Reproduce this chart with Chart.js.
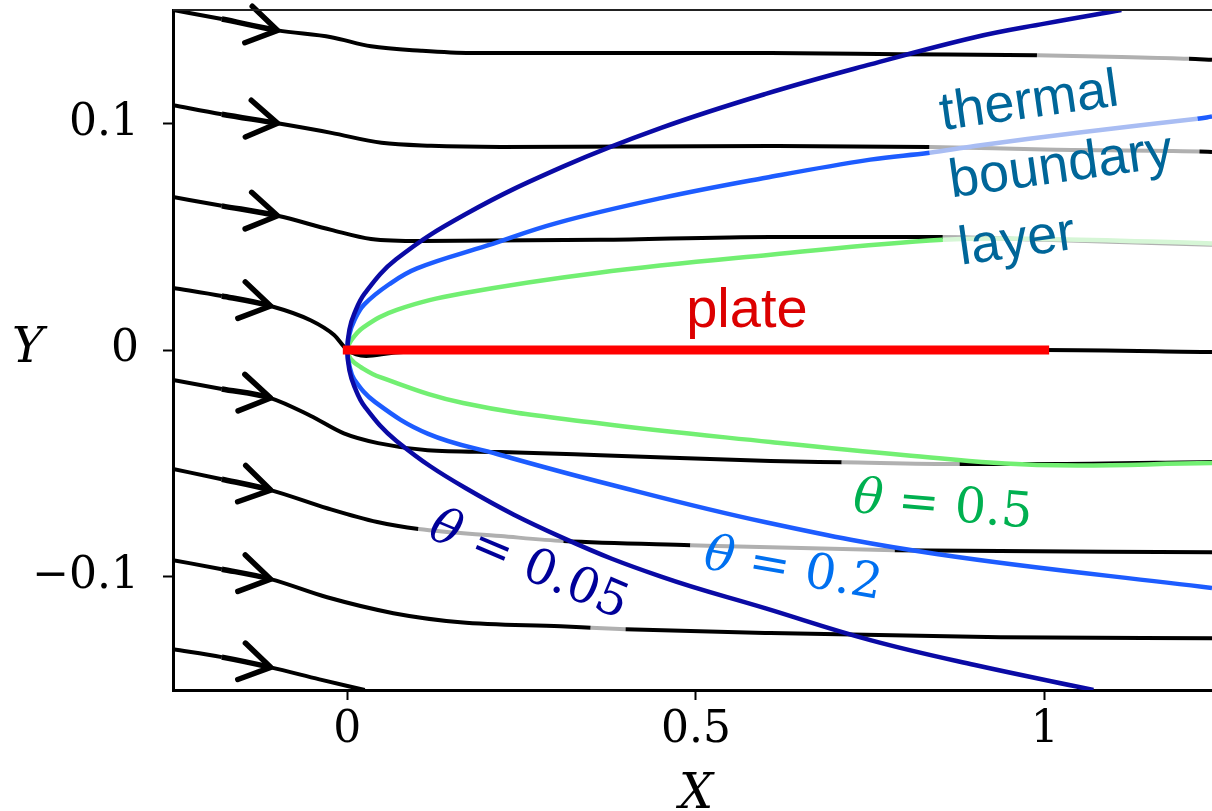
<!DOCTYPE html>
<html>
<head>
<meta charset="utf-8">
<script src="https://cdn.jsdelivr.net/npm/chart.js@4.4.1/dist/chart.umd.min.js"></script>
<style>
  html, body { margin: 0; padding: 0; background: #fff; }
  canvas { display: block; }
</style>
</head>
<body>
<canvas id="flowChart" width="1212" height="811"></canvas>
<script>
// axis ticks
const xTicks = [0, 0.5, 1];
const yTicks = [-0.1, 0, 0.1];

// the plate
const plateX = [0, 1];
const plateY = [0, 0];

// streamlines, top to bottom
const streamX1 = [-0.25, -0.18, -0.10, -0.023, 0.034, 0.106, 0.177, 0.363, 0.607, 0.793, 0.989, 1.11, 1.207, 1.24];
const streamY1 = [0.150, 0.146, 0.141, 0.138, 0.134, 0.132, 0.131, 0.131, 0.131, 0.1305, 0.130, 0.1293, 0.1285, 0.128];
const streamX2 = [-0.25, -0.18, -0.10, -0.023, 0.049, 0.12, 0.22, 0.607, 0.835, 1.0, 1.222, 1.24];
const streamY2 = [0.108, 0.104, 0.100, 0.0958, 0.0914, 0.0901, 0.0896, 0.090, 0.0896, 0.0885, 0.0876, 0.0874];
const streamX3 = [-0.25, -0.18, -0.10, -0.023, 0.034, 0.106, 0.363, 0.607, 0.854, 1.0, 1.24];
const streamY3 = [0.0675, 0.0636, 0.0592, 0.053, 0.049, 0.0481, 0.0486, 0.0499, 0.0499, 0.0486, 0.0464];
const streamX4 = [-0.25, -0.18, -0.11, -0.052, -0.019, 0, 0.027, 0.063, 0.105, 1.0, 1.24];
const streamY4 = [0.0274, 0.0238, 0.0194, 0.0130, 0.0066, 0, -0.0026, -0.0013, -0.0004, 0, -0.0009];
const streamX5 = [-0.25, -0.18, -0.11, -0.053, -0.005, 0.044, 0.115, 0.22, 0.363, 0.607, 0.709, 0.878, 1.0, 1.24];
const streamY5 = [-0.0132, -0.0172, -0.0212, -0.0290, -0.0368, -0.0411, -0.0442, -0.045, -0.0464, -0.049, -0.0495, -0.0503, -0.0503, -0.0494];
const streamX6 = [-0.25, -0.18, -0.11, -0.029, 0.043, 0.102, 0.22, 0.310, 0.492, 0.785, 1.24];
const streamY6 = [-0.0525, -0.057, -0.0618, -0.0698, -0.0759, -0.079, -0.0821, -0.0843, -0.0861, -0.0883, -0.0892];
const streamX7 = [-0.25, -0.18, -0.11, -0.029, 0.066, 0.162, 0.306, 0.349, 0.399, 0.607, 0.937, 1.24];
const streamY7 = [-0.0927, -0.0967, -0.1011, -0.1091, -0.1161, -0.1201, -0.1219, -0.1225, -0.1232, -0.1249, -0.1267, -0.1272];
const streamX8 = [-0.25, -0.18, -0.11, -0.04, 0.025];
const streamY8 = [-0.132, -0.1355, -0.140, -0.1453, -0.150];

// greyed-out parts of the streamlines (under the label boxes), X ranges
const fade1 = [[0.989, 1.207]];
const fade2 = [[0.835, 1.222]];
const fade3 = [[0.854, 1.24]];
const fade5 = [[0.709, 0.878]];
const fade6 = [[0.102, 0.310], [0.492, 0.785]];
const fade7 = [[0.349, 0.399]];

// theta = 0.05 isoline, upper branch then lower branch
const theta005X = [1.11, 1.0, 0.9, 0.75, 0.6, 0.45, 0.31, 0.17, 0.07, 0.025, 0.01, 0.003, 0,
                   0.003, 0.01, 0.025, 0.07, 0.17, 0.31, 0.45, 0.6, 0.75, 0.9, 1.07];
const theta005Y = [0.150, 0.144, 0.138, 0.126, 0.113, 0.098, 0.081, 0.060, 0.040, 0.025, 0.016, 0.009, 0,
                   -0.009, -0.016, -0.025, -0.040, -0.061, -0.083, -0.100, -0.114, -0.128, -0.139, -0.150];
// theta = 0.2 isoline
const theta02X = [1.24, 1.219, 1.05, 0.9, 0.835, 0.75, 0.6, 0.45, 0.3, 0.2, 0.1, 0.06, 0.024, 0.01, 0.003, 0,
                  0.003, 0.01, 0.04, 0.116, 0.216, 0.36, 0.6, 0.845, 1.24];
const theta02Y = [0.103, 0.102, 0.096, 0.090, 0.087, 0.084, 0.076, 0.067, 0.056, 0.046, 0.036, 0.029, 0.020, 0.013, 0.007, 0,
                  -0.007, -0.013, -0.023, -0.037, -0.046, -0.058, -0.076, -0.090, -0.105];
// theta = 0.5 isoline
const theta05X = [1.24, 1.0, 0.854, 0.607, 0.358, 0.166, 0.071, 0.023, 0.005, 0,
                  0.005, 0.019, 0.047, 0.166, 0.358, 0.607, 0.797, 0.989, 1.24];
const theta05Y = [0.047, 0.049, 0.0486, 0.042, 0.034, 0.025, 0.0177, 0.010, 0.004, 0,
                  -0.004, -0.0075, -0.012, -0.0234, -0.0322, -0.0406, -0.0463, -0.0507, -0.0499];
const fadeTheta02 = [[0.835, 1.219]];
const fadeTheta05 = [[0.854, 1.24]];

function toPoints(xs, ys) {
  return xs.map((x, i) => ({ x: x, y: ys[i] }));
}

// colour a segment lighter when it lies inside one of the ranges
function fadeColor(ranges, base, faded, upperOnly) {
  return function (ctx) {
    const a = ctx.p0.parsed, b = ctx.p1.parsed;
    if (upperOnly && (a.y < 0 || b.y < 0)) return base;
    for (const r of ranges) {
      if (Math.min(a.x, b.x) >= r[0] - 1e-6 && Math.max(a.x, b.x) <= r[1] + 1e-6) return faded;
    }
    return base;
  };
}

function streamline(xs, ys, fades) {
  return {
    data: toPoints(xs, ys),
    borderColor: '#000',
    borderWidth: 4,
    pointRadius: 0,
    cubicInterpolationMode: 'monotone',
    arrowAt: 2,
    segment: {
      borderColor: fadeColor(fades || [], '#000', '#b0b0b0', false),
      borderWidth: ctx => ctx.p0DataIndex === 1 ? 5.5 : undefined
    }
  };
}

function isoline(xs, ys, color, faded, fades) {
  return {
    data: toPoints(xs, ys),
    borderColor: color,
    borderWidth: 4.5,
    pointRadius: 0,
    tension: 0.4,
    segment: { borderColor: fadeColor(fades || [], color, faded, true) }
  };
}

// text annotations, anchored in data units (left end of the baseline)
const notes = [
  { lines: ['plate'], x: 0.486, y: 0.0101, angle: 0, color: '#dc0000', size: 56, lineHeight: 0 },
  { lines: ['thermal', 'boundary', 'layer'], x: 0.853, y: 0.097, angle: -8, color: '#006699', size: 54, lineHeight: 68 }
];
const thetaNotes = [
  { value: '0.05', x: 0.113, y: -0.0825, angle: 23, color: '#000099' },
  { value: '0.2', x: 0.509, y: -0.0962, angle: 10, color: '#0070f0' },
  { value: '0.5', x: 0.724, y: -0.0715, angle: 5, color: '#00b050' }
];

function fmt(v) {
  if (v === 0) return '0';
  return (v < 0 ? '\u2212' : '') + Math.abs(v);
}

const arrowPlugin = {
  id: 'arrows',
  afterDatasetsDraw(chart) {
    const ctx = chart.ctx;
    chart.data.datasets.forEach((ds, i) => {
      if (ds.arrowAt === undefined) return;
      const pts = chart.getDatasetMeta(i).data;
      const tip = pts[ds.arrowAt], prev = pts[ds.arrowAt - 1];
      const ang = Math.atan2(tip.y - prev.y, tip.x - prev.x);
      const len = 35, spread = 0.56;
      ctx.save();
      ctx.strokeStyle = '#000';
      ctx.lineWidth = 5.5;
      ctx.lineCap = 'round';
      ctx.lineJoin = 'round';
      ctx.beginPath();
      ctx.moveTo(tip.x - len * Math.cos(ang - spread), tip.y - len * Math.sin(ang - spread));
      ctx.lineTo(tip.x, tip.y);
      ctx.lineTo(tip.x - len * Math.cos(ang + spread), tip.y - len * Math.sin(ang + spread));
      ctx.stroke();
      ctx.restore();
    });
  }
};

const textPlugin = {
  id: 'notes',
  afterDatasetsDraw(chart) {
    const ctx = chart.ctx;
    const xs = chart.scales.x, ys = chart.scales.y;
    ctx.save();
    ctx.textBaseline = 'alphabetic';
    ctx.textAlign = 'left';
    notes.forEach(n => {
      ctx.save();
      ctx.translate(xs.getPixelForValue(n.x), ys.getPixelForValue(n.y));
      ctx.rotate(n.angle * Math.PI / 180);
      ctx.fillStyle = n.color;
      ctx.font = n.size + 'px "Liberation Sans", Arial, sans-serif';
      n.lines.forEach((t, k) => ctx.fillText(t, 0, k * n.lineHeight));
      ctx.restore();
    });
    thetaNotes.forEach(n => {
      ctx.save();
      ctx.translate(xs.getPixelForValue(n.x), ys.getPixelForValue(n.y));
      ctx.rotate(n.angle * Math.PI / 180);
      ctx.fillStyle = n.color;
      ctx.font = 'italic 49px "DejaVu Serif", serif';
      ctx.fillText('\u03b8', 0, 0);
      let w = ctx.measureText('\u03b8').width;
      ctx.font = '49px "DejaVu Serif", serif';
      ctx.fillText(' = ' + n.value, w, 0);
      ctx.restore();
    });
    ctx.restore();
  },
  afterDraw(chart) {
    const ctx = chart.ctx;
    const area = chart.chartArea;
    ctx.save();
    // thin frame line along the top
    ctx.strokeStyle = '#222';
    ctx.lineWidth = 2;
    ctx.beginPath();
    ctx.moveTo(area.left, area.top);
    ctx.lineTo(area.right, area.top);
    ctx.stroke();
    // axis titles
    ctx.fillStyle = '#000';
    ctx.font = 'italic 48px "DejaVu Serif", serif';
    ctx.textAlign = 'left';
    ctx.textBaseline = 'middle';
    ctx.fillText('Y', 12, chart.scales.y.getPixelForValue(0));
    ctx.textAlign = 'center';
    ctx.textBaseline = 'alphabetic';
    ctx.fillText('X', chart.scales.x.getPixelForValue(0.5), 808);
    ctx.restore();
  }
};

const datasets = [
  {
    data: toPoints(plateX, plateY),
    borderColor: '#ff0000',
    borderWidth: 9,
    borderCapStyle: 'square',
    pointRadius: 0
  },
  isoline(theta005X, theta005Y, '#0a0aa5', '#0a0aa5', []),
  isoline(theta02X, theta02Y, '#1d5cff', '#a9bdf3', fadeTheta02),
  isoline(theta05X, theta05Y, '#72ef72', '#d6f6d6', fadeTheta05),
  streamline(streamX1, streamY1, fade1),
  streamline(streamX2, streamY2, fade2),
  streamline(streamX3, streamY3, fade3),
  streamline(streamX4, streamY4, []),
  streamline(streamX5, streamY5, fade5),
  streamline(streamX6, streamY6, fade6),
  streamline(streamX7, streamY7, fade7),
  streamline(streamX8, streamY8, [])
];

const axisGrid = { drawOnChartArea: false, drawTicks: true, tickLength: 10, tickWidth: 2, tickColor: '#000' };
const axisBorder = { display: true, color: '#000', width: 3 };
const tickFont = { family: '"DejaVu Serif", serif', size: 44 };

// keep the plot area where the reference has it
function noPad(s) {
  s.paddingTop = 0; s.paddingBottom = 0; s.paddingLeft = 0; s.paddingRight = 0;
}

new Chart(document.getElementById('flowChart'), {
  type: 'line',
  data: { datasets: datasets },
  options: {
    responsive: false,
    animation: false,
    devicePixelRatio: 1,
    layout: { padding: { top: 10, left: 0, right: 0, bottom: 0 } },
    plugins: { legend: { display: false }, tooltip: { enabled: false } },
    scales: {
      x: {
        type: 'linear', min: -0.25, max: 1.24,
        afterBuildTicks: s => { s.ticks = xTicks.map(v => ({ value: v })); },
        afterFit: s => { s.height = 121; noPad(s); },
        grid: axisGrid, border: axisBorder,
        ticks: { color: '#000', font: tickFont, padding: 4, maxRotation: 0, autoSkip: false, callback: v => fmt(v) }
      },
      y: {
        type: 'linear', min: -0.15, max: 0.15,
        afterBuildTicks: s => { s.ticks = yTicks.map(v => ({ value: v })); },
        afterFit: s => { s.width = 173; noPad(s); },
        grid: axisGrid, border: axisBorder,
        ticks: { color: '#000', font: tickFont, padding: 24, autoSkip: false, callback: v => fmt(v) }
      }
    }
  },
  plugins: [arrowPlugin, textPlugin]
});
</script>
</body>
</html>
